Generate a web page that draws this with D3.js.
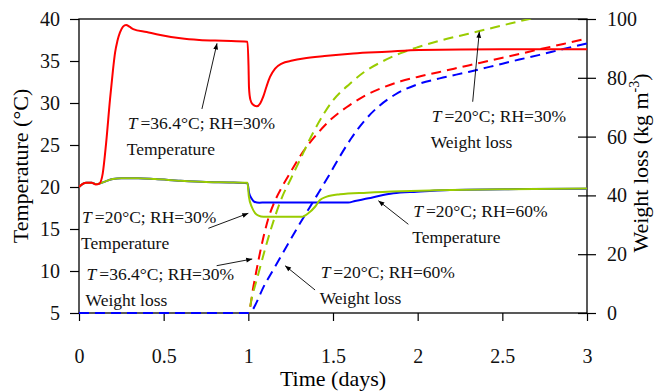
<!DOCTYPE html>
<html>
<head>
<meta charset="utf-8">
<script src="https://cdn.jsdelivr.net/npm/d3@7"></script>
<style>
  body { margin: 0; background: #fff; }
  svg text { font-family: "Liberation Serif", "Times New Roman", serif; fill: #111; }
</style>
</head>
<body>
<svg id="chart" width="656" height="392"></svg>
<script>
// Axis ticks
const timeTicks = [0, 0.5, 1, 1.5, 2, 2.5, 3];
const timeTickLabels = ["0", "0.5", "1", "1.5", "2", "2.5", "3"];
const tempTicks = [5, 10, 15, 20, 25, 30, 35, 40];
const lossTicks = [0, 20, 40, 60, 80, 100];

// Temperature, [time (days), °C]
const tempHot30 = [
  [0, 20.0], [0.02, 20.35], [0.045, 20.5], [0.075, 20.5], [0.1, 20.3], [0.12, 20.4],
  [0.14, 21.6], [0.16, 25.2], [0.183, 30.4], [0.2, 33.8], [0.213, 36.0], [0.227, 37.4],
  [0.242, 38.4], [0.26, 39.1], [0.278, 39.3], [0.3, 39.05], [0.32, 38.8], [0.4, 38.45],
  [0.48, 38.1], [0.6, 37.7], [0.71, 37.5], [0.85, 37.4], [0.995, 37.3], [1.001, 34.5],
  [1.004, 31.8], [1.012, 30.4], [1.025, 29.85], [1.05, 29.6], [1.07, 29.95], [1.088, 30.75],
  [1.108, 32.0], [1.128, 33.1], [1.158, 34.1], [1.197, 34.7], [1.26, 35.05], [1.325, 35.3],
  [1.45, 35.6], [1.62, 35.9], [1.817, 36.1], [2.01, 36.3], [2.5, 36.4], [3.0, 36.4]
];
const tempCool30 = [
  [0, 20.0], [0.02, 20.35], [0.045, 20.5], [0.075, 20.5], [0.1, 20.35], [0.12, 20.4],
  [0.16, 20.7], [0.2, 20.95], [0.25, 21.05], [0.35, 21.05], [0.45, 20.95], [0.6, 20.75],
  [0.75, 20.6], [0.9, 20.55], [0.995, 20.5], [1.003, 18.9], [1.02, 17.65], [1.04, 16.9],
  [1.06, 16.6], [1.09, 16.46], [1.315, 16.46], [1.354, 16.87], [1.394, 17.65], [1.423, 18.45],
  [1.463, 18.85], [1.541, 19.13], [1.7, 19.33], [1.9, 19.5], [2.1, 19.6], [2.5, 19.72], [3.0, 19.82]
];
const tempCool60 = [
  [0, 20.0], [0.02, 20.35], [0.045, 20.5], [0.075, 20.5], [0.1, 20.35], [0.12, 20.4],
  [0.16, 20.7], [0.2, 20.95], [0.25, 21.05], [0.35, 21.05], [0.45, 20.95], [0.6, 20.75],
  [0.75, 20.6], [0.9, 20.55], [0.995, 20.45], [1.005, 19.25], [1.02, 18.6], [1.035, 18.25],
  [1.065, 18.13], [1.1, 18.15], [1.59, 18.15], [1.63, 18.33], [1.71, 18.65], [1.77, 18.93],
  [1.856, 19.25], [1.995, 19.44], [2.19, 19.64], [2.6, 19.75], [3.0, 19.8]
];

// Weight loss, [time (days), kg m^-3]
const lossHot30 = [
  [0, 0], [1.0, 0], [1.03, 9], [1.06, 18], [1.09, 26], [1.12, 32.5], [1.16, 38.5], [1.2, 43],
  [1.25, 48], [1.325, 55], [1.4, 60.5], [1.483, 65.6], [1.58, 70], [1.679, 73.6], [1.8, 76.8],
  [1.9, 78.8], [2.0, 80.3], [2.13, 82.0], [2.3, 84.2], [2.43, 85.9], [2.6, 88.1], [2.72, 89.7],
  [2.86, 91.5], [3.0, 93.4]
];
const lossCool30 = [
  [0, 0], [1.0, 0], [1.02, 5], [1.06, 13.5], [1.1, 22], [1.15, 31.5], [1.2, 39.5], [1.25, 45.5],
  [1.3, 51.5], [1.384, 61.5], [1.5, 72.3], [1.6, 78], [1.68, 81.8], [1.8, 85.8], [1.9, 88.4],
  [2.0, 90.4], [2.13, 92.6], [2.3, 95.0], [2.45, 97.1], [2.6, 99.2], [2.66, 100.0], [2.8, 101.8],
  [3.0, 104.2]
];
const lossCool60 = [
  [0, 0], [1.0, 0], [1.1, 10], [1.2, 20], [1.3, 30], [1.4, 39.5], [1.476, 46.8], [1.541, 53.3],
  [1.61, 59.6], [1.683, 65.2], [1.768, 70.2], [1.87, 74.4], [2.0, 77.8], [2.13, 79.8], [2.3, 82.0],
  [2.43, 83.8], [2.6, 86.2], [2.72, 87.8], [2.86, 89.8], [3.0, 91.7]
];

// Callouts: condition text, quantity, text anchor and arrow (time, °C)
const notes = [
  { cond: "=36.4°C; RH=30%", kind: "Temperature", at: [0.288, 26.87], tail: [0.726, 29.29], head: [0.815, 37.1] },
  { cond: "=20°C; RH=30%",   kind: "Temperature", at: [0.018, 15.68], tail: [0.764, 15.08], head: [1.0, 16.87] },
  { cond: "=36.4°C; RH=30%", kind: "Weight loss", at: [0.045, 8.93],  tail: [0.813, 10.63], head: [1.023, 11.43] },
  { cond: "=20°C; RH=30%",   kind: "Weight loss", at: [2.083, 27.77], tail: [2.325, 30.15], head: [2.364, 38.49] },
  { cond: "=20°C; RH=60%",   kind: "Temperature", at: [1.974, 16.39], tail: [1.945, 15.56], head: [1.768, 18.37] },
  { cond: "=20°C; RH=60%",   kind: "Weight loss", at: [1.427, 9.13],  tail: [1.394, 7.74],  head: [1.217, 10.63] }
];

const RED = "#ff0000", GREEN = "#99cc00", BLUE = "#0000ff";

const svg = d3.select("#chart");
const plotLeft = 79, plotRight = 587, plotTop = 19, plotBottom = 313;

const x = d3.scaleLinear().domain([0, 3]).range([plotLeft, plotRight]);
const yT = d3.scaleLinear().domain([5, 40]).range([plotBottom, plotTop]);
const yW = d3.scaleLinear().domain([0, 100]).range([plotBottom, plotTop]);

svg.append("defs").call(defs => {
  defs.append("clipPath").attr("id", "plot-clip")
    .append("rect").attr("x", plotLeft).attr("y", plotTop)
    .attr("width", plotRight - plotLeft).attr("height", plotBottom - plotTop + 2);
  defs.append("marker").attr("id", "arrowhead")
    .attr("viewBox", "0 0 10 10").attr("refX", 10).attr("refY", 5)
    .attr("markerWidth", 7).attr("markerHeight", 6)
    .attr("markerUnits", "userSpaceOnUse").attr("orient", "auto")
    .append("path").attr("d", "M0,1 L10,5 L0,9 Z").attr("fill", "#000");
});

// Axes
const axisStyle = g => {
  g.select(".domain").remove();
  g.selectAll(".tick line").attr("stroke", "#000").attr("stroke-width", 1.2);
  g.selectAll(".tick text").attr("font-size", 20).attr("fill", "#000")
    .style("font-family", "'Liberation Serif', serif");
};

svg.append("g").attr("transform", `translate(0,${plotBottom})`)
  .call(d3.axisBottom(x).tickValues(timeTicks).tickFormat((d, i) => timeTickLabels[i])
    .tickSize(8).tickSizeOuter(0).tickPadding(28))
  .call(axisStyle);

svg.append("g").attr("transform", `translate(${plotLeft},0)`)
  .call(d3.axisLeft(yT).tickValues(tempTicks).tickFormat(d3.format("d"))
    .tickSize(9).tickSizeOuter(0).tickPadding(10))
  .call(axisStyle);

svg.append("g").attr("transform", `translate(${plotRight},0)`)
  .call(d3.axisRight(yW).tickValues(lossTicks).tickFormat(d3.format("d"))
    .tickSize(9).tickSizeOuter(0).tickPadding(11))
  .call(axisStyle)
  .call(g => g.selectAll(".tick line").attr("x1", -9));

svg.append("rect")
  .attr("x", plotLeft).attr("y", plotTop)
  .attr("width", plotRight - plotLeft).attr("height", plotBottom - plotTop)
  .attr("fill", "none").attr("stroke", "#000").attr("stroke-width", 1.3);

// Axis titles
svg.append("text").attr("transform", `translate(28,${(plotTop + plotBottom) / 2}) rotate(-90)`)
  .attr("text-anchor", "middle").attr("font-size", 22).style("fill", "#000")
  .text("Temperature (°C)");

svg.append("text").attr("transform", `translate(648,${(plotTop + plotBottom) / 2 - 3}) rotate(-90)`)
  .attr("text-anchor", "middle").attr("font-size", 22).style("fill", "#000")
  .call(t => {
    t.append("tspan").text("Weight loss (kg m");
    t.append("tspan").attr("font-size", 14).attr("dy", -9).text("-3");
    t.append("tspan").attr("dy", 9).text(")");
  });

svg.append("text").attr("x", (plotLeft + plotRight) / 2).attr("y", 386)
  .attr("text-anchor", "middle").attr("font-size", 22).style("fill", "#000")
  .text("Time (days)");

// Series
const plot = svg.append("g").attr("clip-path", "url(#plot-clip)");
const tempLine = d3.line().x(d => x(d[0])).y(d => yT(d[1])).curve(d3.curveMonotoneX);
const lossLine = d3.line().x(d => x(d[0])).y(d => yW(d[1])).curve(d3.curveMonotoneX);

const lossSeries = [
  { data: lossHot30, color: RED },
  { data: lossCool30, color: GREEN },
  { data: lossCool60, color: BLUE }
];
const tempSeries = [
  { data: tempCool60, color: BLUE },
  { data: tempCool30, color: GREEN },
  { data: tempHot30, color: RED }
];

plot.selectAll("path.loss").data(lossSeries).join("path")
  .attr("class", "loss")
  .attr("d", s => lossLine(s.data))
  .attr("fill", "none").attr("stroke", s => s.color)
  .attr("stroke-width", 2).attr("stroke-dasharray", "10,6");

plot.selectAll("path.temp").data(tempSeries).join("path")
  .attr("class", "temp")
  .attr("d", s => tempLine(s.data))
  .attr("fill", "none").attr("stroke", s => s.color)
  .attr("stroke-width", 2);

// Callouts
const noteG = svg.append("g");
notes.forEach(n => {
  noteG.append("line")
    .attr("x1", x(n.tail[0])).attr("y1", yT(n.tail[1]))
    .attr("x2", x(n.head[0])).attr("y2", yT(n.head[1]))
    .attr("stroke", "#000").attr("stroke-width", 0.9)
    .attr("marker-end", "url(#arrowhead)");
  const t = noteG.append("text").attr("x", x(n.at[0])).attr("y", yT(n.at[1]))
    .attr("font-size", 17.5);
  t.append("tspan").attr("font-style", "italic").text("T");
  t.append("tspan").attr("dx", 3).text(n.cond);
  noteG.append("text").attr("x", x(n.at[0]) - 1).attr("y", yT(n.at[1]) + 26)
    .attr("font-size", 17.5).text(n.kind);
});
</script>
</body>
</html>
